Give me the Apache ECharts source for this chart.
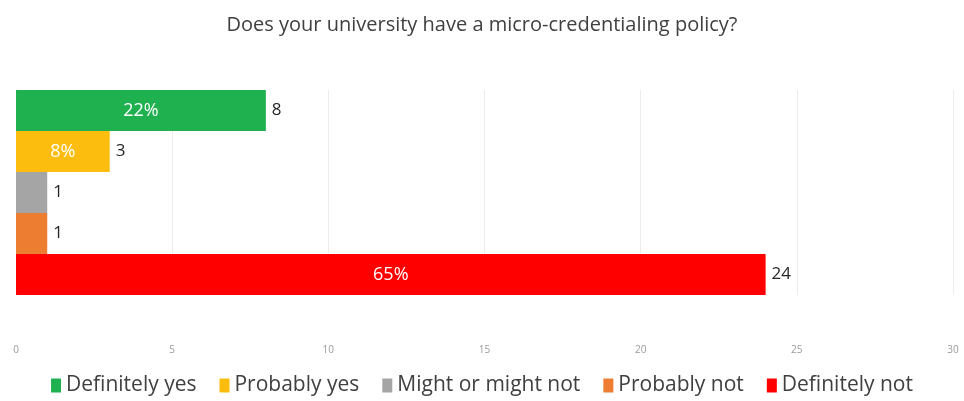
<!DOCTYPE html>
<html><head><meta charset="utf-8">
<script src="https://cdn.jsdelivr.net/npm/echarts@6/dist/echarts.min.js"></script>
<style>html,body{margin:0;padding:0;background:#fff}#c{width:964px;height:401px}</style>
</head><body><div id="c"></div>
<script>
const title = 'Does your university have a micro-credentialing policy?';
const categories = ['Definitely yes', 'Probably yes', 'Might or might not', 'Probably not', 'Definitely not'];
const values = [8, 3, 1, 1, 24];
const percentLabels = ['22%', '8%', '', '', '65%'];
const colors = ['#1fb04f', '#fdbd0e', '#a5a5a5', '#ed7d31', '#ff0000'];
const xTicks = { min: 0, max: 30, interval: 5 };
const FONT = '"Open Sans", sans-serif';

const series = categories.map((name, i) => ({
  name: name,
  type: 'bar',
  stack: 'main',
  barCategoryGap: 0,
  data: values.map((v, j) => (j === i ? v : '-')),
  itemStyle: { color: colors[i] },
  label: { show: true, position: 'right', distance: 6, color: '#262626', fontSize: 17, fontFamily: FONT }
}));
series.push({
  name: 'pct',
  type: 'bar',
  stack: 'overlay',
  barGap: '-100%',
  data: values,
  itemStyle: { color: 'rgba(0,0,0,0)' },
  silent: true,
  label: { show: true, position: 'inside', color: '#fff', fontSize: 18, fontFamily: FONT,
    formatter: p => percentLabels[p.dataIndex] }
});

const chart = echarts.init(document.getElementById('c'), null, { renderer: 'canvas' });
chart.setOption({
  animation: false,
  backgroundColor: '#fff',
  title: { text: title, left: 'center', top: 10, textStyle: { fontFamily: FONT, fontSize: 20, fontWeight: 'normal', color: '#404040' } },
  legend: {
    data: categories, bottom: 0, left: 'center', itemWidth: 10, itemHeight: 14, itemGap: 23,
    icon: 'rect',
    textStyle: { fontFamily: FONT, fontSize: 21, color: '#404040' }
  },
  grid: { left: 16, right: 11, top: 90, bottom: 106 },
  xAxis: {
    type: 'value', min: xTicks.min, max: xTicks.max, interval: xTicks.interval,
    axisLine: { show: false }, axisTick: { show: false },
    splitLine: { lineStyle: { color: '#ececec' } },
    axisLabel: { margin: 50, fontSize: 10, color: '#9a9a9a', fontFamily: FONT }
  },
  yAxis: {
    type: 'category', data: categories, inverse: true,
    axisLine: { show: true, lineStyle: { color: '#d9d9d9' } }, axisTick: { show: false }, axisLabel: { show: false }
  },
  series: series
});
</script></body></html>
